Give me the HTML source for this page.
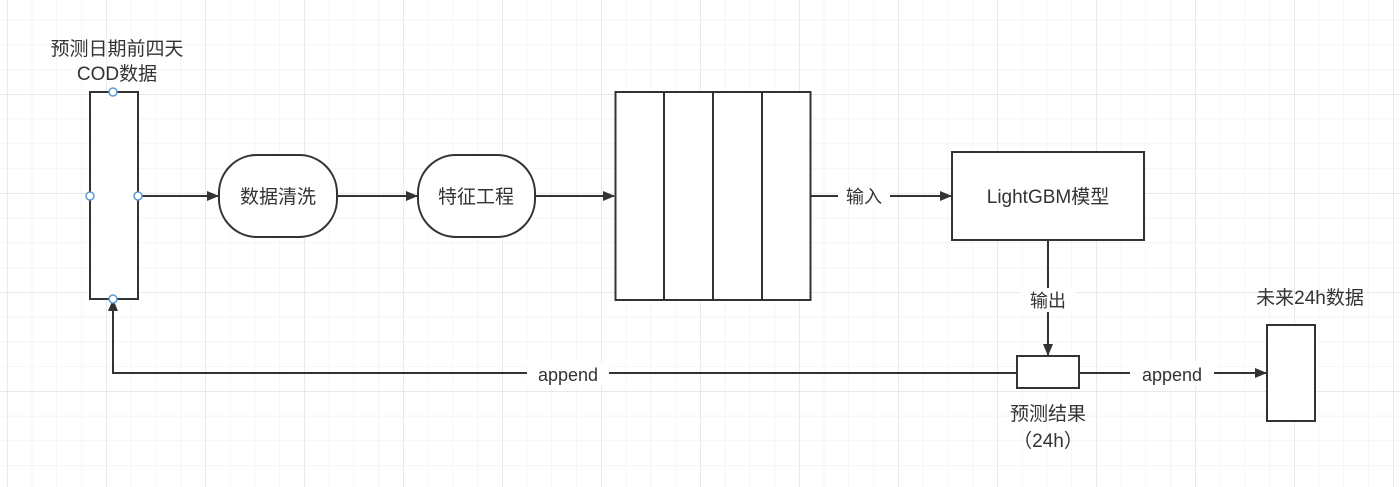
<!DOCTYPE html>
<html><head><meta charset="utf-8"><style>
html,body{margin:0;padding:0;background:#fff;}
svg{display:block;}
text{font-family:"Liberation Sans","Noto Sans CJK SC",sans-serif;fill:#333;}
</style></head><body>
<svg width="1400" height="487" viewBox="0 0 1400 487" xmlns="http://www.w3.org/2000/svg">
<defs>
<pattern id="minor" x="7" y="19.75" width="24.75" height="24.75" patternUnits="userSpaceOnUse">
<path d="M0 0V24.75M0 0H24.75" stroke="#efefef" stroke-width="1.2" fill="none"/>
</pattern>
<pattern id="major" x="7" y="-5" width="99" height="99" patternUnits="userSpaceOnUse">
<path d="M0 0V99M0 0H99" stroke="#e2e2e2" stroke-width="1.4" fill="none"/>
</pattern>
<marker id="ar" markerWidth="12" markerHeight="10" refX="11" refY="5" orient="auto" markerUnits="userSpaceOnUse">
<path d="M0 0L12 5L0 10Z" fill="#333"/>
</marker>
</defs>
<rect width="1400" height="487" fill="url(#minor)"/>
<rect width="1400" height="487" fill="url(#major)"/>
<g stroke="#333" stroke-width="2" fill="#fff">
<rect x="90" y="92" width="48" height="207"/>
<rect x="219" y="155" width="118" height="82" rx="38"/>
<rect x="418" y="155" width="117" height="82" rx="38"/>
<rect x="615.5" y="92" width="195" height="208"/>
<line x1="664" y1="92" x2="664" y2="300"/>
<line x1="713" y1="92" x2="713" y2="300"/>
<line x1="762" y1="92" x2="762" y2="300"/>
<rect x="952" y="152" width="192" height="88"/>
<rect x="1017" y="356" width="62" height="32"/>
<rect x="1267" y="325" width="48" height="96"/>
</g>
<g stroke="#333" stroke-width="2" fill="none">
<line x1="138" y1="196" x2="218" y2="196" marker-end="url(#ar)"/>
<line x1="337" y1="196" x2="417" y2="196" marker-end="url(#ar)"/>
<line x1="535" y1="196" x2="614" y2="196" marker-end="url(#ar)"/>
<line x1="811" y1="196" x2="951" y2="196" marker-end="url(#ar)"/>
<line x1="1048" y1="240" x2="1048" y2="355" marker-end="url(#ar)"/>
<line x1="1079" y1="373" x2="1266" y2="373" marker-end="url(#ar)"/>
<polyline points="1017,373 113,373 113,300" marker-end="url(#ar)"/>
</g>
<g fill="#fff" stroke="#5b9bd5" stroke-width="1.5">
<circle cx="113" cy="92" r="4"/><circle cx="90" cy="196" r="4"/><circle cx="138" cy="196" r="4"/><circle cx="113" cy="299" r="4"/>
</g>
<g fill="#fff">
<rect x="838" y="184" width="52" height="24"/>
<rect x="1020" y="288" width="56" height="24"/>
<rect x="527" y="362" width="82" height="24"/>
<rect x="1130" y="362" width="84" height="24"/>
</g>
<g font-size="19" text-anchor="middle">
<text x="117" y="55">预测日期前四天</text>
<text x="117" y="80">COD数据</text>
<text x="278" y="203">数据清洗</text>
<text x="476" y="203">特征工程</text>
<text x="1048" y="203">LightGBM模型</text>
<text x="1310" y="304">未来24h数据</text>
<text x="1048" y="420">预测结果</text>
<text x="1048" y="447">（24h）</text>
</g>
<g font-size="18" text-anchor="middle">
<text x="864" y="203">输入</text>
<text x="1048" y="307">输出</text>
<text x="568" y="381">append</text>
<text x="1172" y="381">append</text>
</g>
</svg>
</body></html>
